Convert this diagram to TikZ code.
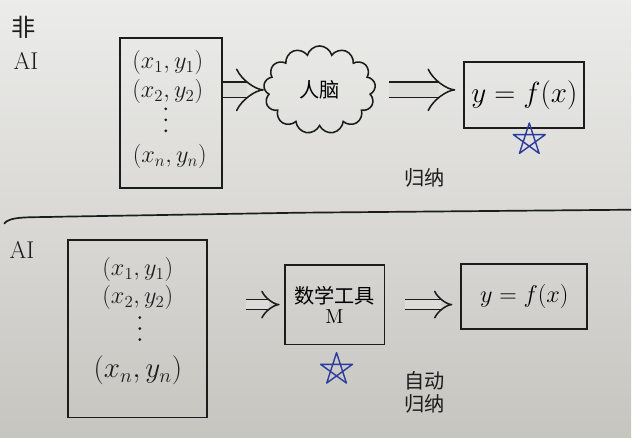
\documentclass[tikz,border=0pt]{standalone}
\usepackage{fontspec}
\newfontfamily\cjk{Noto Sans CJK SC}
\usepackage{amsmath}
\usetikzlibrary{arrows.meta}
\usetikzlibrary{shapes.symbols}
\usetikzlibrary{positioning}
\definecolor{paperA}{HTML}{ECECEA}
\definecolor{paperB}{HTML}{C6C5C0}
\definecolor{paperM}{HTML}{DCDCD8}
\definecolor{pen}{HTML}{1C1C1C}
\definecolor{bluepen}{HTML}{2B3C9C}
\tikzset{>=latex}
\tikzset{
  txt/.style = {draw=none, inner sep=0, text=pen},
  box/.style = {draw=pen, line width=1.3pt, inner sep=0},
  imp/.style = {draw=pen, line width=1.1pt, double=paperM, double distance=10pt, -{Implies}},
  impsm/.style = {draw=pen, line width=1.1pt, double=paperM, double distance=6pt, -{Implies}},
  starline/.style = {draw=bluepen, line width=1pt, line join=round},
}

\begin{document}
\begin{tikzpicture}[x=0.025cm, y=-0.025cm]
\shade [top color=paperA, bottom color=paperB] (0,0) rectangle (632,438);

% top: without AI
\node [txt] (nonai) at (24,27) {\cjk\LARGE 非};
\node [txt] (ai1) at (26,61) {\LARGE AI};
\node [box, minimum width=2.55cm, minimum height=3.75cm] (D1) at (171,113) {};
\node [txt] (p11) at (168,63) {\LARGE $(x_1,y_1)$};
\node [txt] (p12) at (168,92) {\LARGE $(x_2,y_2)$};
\node [txt] (p1n) at (170,157) {\LARGE $(x_n,y_n)$};
\fill [pen] (166,109) circle (1.1pt);
\fill [pen] (166,120) circle (1.1pt);
\fill [pen] (166,131) circle (1.1pt);
\node [cloud, draw=pen, line width=1.1pt, cloud puffs=13, aspect=1.3,
       minimum width=2.8cm, minimum height=2.2cm] (C) at (320,90) {\cjk\Large 人脑};
\node [box, minimum width=3cm, minimum height=1.65cm] (F1) at (525,95) {\huge $y=f(x)$};
\node [txt] (g1) at (425,178) {\cjk\Large 归纳};
\coordinate (S1) at (530,140);
\draw [imp] (D1.east |- C.west) -- (C.west);
\draw [imp, shorten <=0.35cm, shorten >=0.2cm] (C.east) -- (C.east -| F1.west);
\draw [starline, shift={(S1)}] (90:0.42cm) -- (234:0.42cm) -- (18:0.42cm)
  -- (162:0.42cm) -- (306:0.42cm) -- cycle;

% divider
\draw [pen, line width=1.2pt] (4,224) .. controls (10,216) and (30,218) .. (60,217)
  -- (300,213) -- (632,210);

% bottom: AI
\node [txt] (ai2) at (22,250) {\LARGE AI};
\node [box, minimum width=3.475cm, minimum height=4.45cm] (D2) at (138,329) {};
\node [txt] (p21) at (138,270) {\LARGE $(x_1,y_1)$};
\node [txt] (p22) at (138,298) {\LARGE $(x_2,y_2)$};
\node [txt] (p2n) at (138,371) {\huge $(x_n,y_n)$};
\fill [pen] (140,318) circle (1.1pt);
\fill [pen] (140,329) circle (1.1pt);
\fill [pen] (140,340) circle (1.1pt);
\node [box, minimum width=2.5cm, minimum height=2cm, align=center] (M) at (335,305)
  {\cjk\Large 数学工具\\[2pt]\Large M};
\node [box, minimum width=3.15cm, minimum height=1.625cm] (F2) at (525,297) {\LARGE $y=f(x)$};
\node [txt, align=center] (zd) at (425,393) {\cjk\Large 自动\\[2pt]\cjk\Large 归纳};
\coordinate (S2) at (337,370);
\draw [impsm, shorten <=0.95cm, shorten >=0.1cm] (D2.east |- M.west) -- (M.west);
\draw [impsm, shorten <=0.5cm, shorten >=0.2cm] (M.east) -- (M.east -| F2.west);
\draw [starline, shift={(S2)}] (90:0.42cm) -- (234:0.42cm) -- (18:0.42cm)
  -- (162:0.42cm) -- (306:0.42cm) -- cycle;
\end{tikzpicture}
\end{document}
